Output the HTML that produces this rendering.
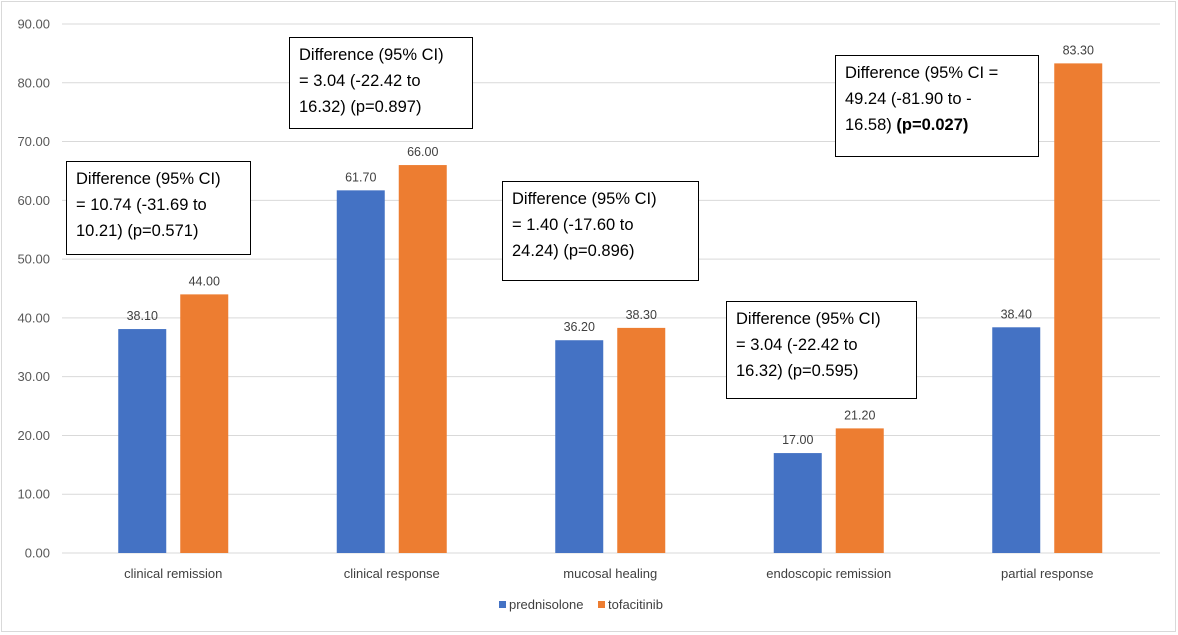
<!DOCTYPE html>
<html><head><meta charset="utf-8"><style>
body{margin:0;background:#fff;font-family:"Liberation Sans",sans-serif;}
svg text{font-family:"Liberation Sans",sans-serif;}
.box{position:absolute;background:#fff;border:1px solid #000;font-size:16.5px;line-height:26px;padding:4px 9px;box-sizing:border-box;color:#000;}
</style></head><body>
<div style="position:relative;width:1178px;height:635px;">
<svg id="c" width="1178" height="635" style="position:absolute;left:0;top:0">
<rect x="1.5" y="1.5" width="1174" height="630" fill="#fff" stroke="#d9d9d9"/>
</svg>
<div class="box" style="left:66px;top:161px;width:185px;height:94px">Difference (95% CI)<br>= 10.74 (-31.69 to<br>10.21) (p=0.571)</div>
<div class="box" style="left:289px;top:37px;width:184px;height:92px">Difference (95% CI)<br>= 3.04 (-22.42 to<br>16.32) (p=0.897)</div>
<div class="box" style="left:502px;top:181px;width:197px;height:100px">Difference (95% CI)<br>= 1.40 (-17.60 to<br>24.24) (p=0.896)</div>
<div class="box" style="left:726px;top:301px;width:191px;height:98px">Difference (95% CI)<br>= 3.04 (-22.42 to<br>16.32) (p=0.595)</div>
<div class="box" style="left:835px;top:55px;width:204px;height:102px">Difference (95% CI =<br>49.24 (-81.90 to -<br>16.58) <b>(p=0.027)</b></div>
</div>
<script>
const categories=["clinical remission","clinical response","mucosal healing","endoscopic remission","partial response"];
const prednisolone=[38.10,61.70,36.20,17.00,38.40];
const tofacitinib=[44.00,66.00,38.30,21.20,83.30];
const ticks=[0,10,20,30,40,50,60,70,80,90];
const svg=document.getElementById('c');
const NS='http://www.w3.org/2000/svg';
const y0=553,yTop=24,yMax=90,left=64,catW=218.5;
const Y=v=>y0-(v/yMax)*(y0-yTop);
const X=i=>left+(i+0.5)*catW;
function el(t,a,txt){const e=document.createElementNS(NS,t);for(const k in a)e.setAttribute(k,a[k]);if(txt!==undefined)e.textContent=txt;svg.appendChild(e);return e;}
ticks.forEach(t=>{
 const g=el('line',{x1:62,x2:1160,y1:Y(t),y2:Y(t),stroke:'#d9d9d9','stroke-width':1});
 
 
 const l=el('text',{x:50,y:Y(t)+4.5,'text-anchor':'end','font-size':13,fill:'#595959'},t.toFixed(2));
 
 
});
categories.forEach((c,i)=>{
 const cx=X(i);
 [[prednisolone[i],'#4472c4',cx-55],[tofacitinib[i],'#ed7d31',cx+7]].forEach(([v,col,x],k)=>{
  const b=el('rect',{x:x,y:Y(v),width:48,height:y0-Y(v),fill:col});
  
  
  const t=el('text',{x:x+24,y:Y(v)-9,'text-anchor':'middle','font-size':12.5,fill:'#404040'},v.toFixed(2));
  
  
 });
 const cl=el('text',{x:cx,y:578,'text-anchor':'middle','font-size':13,fill:'#404040'},c);
 
 
});
[['prednisolone','#4472c4',499],['tofacitinib','#ed7d31',598]].forEach(([n,c,x])=>{
 const s=el('rect',{x:x,y:601,width:7,height:7,fill:c});
 
 
 const t=el('text',{x:x+10,y:609,'font-size':13,fill:'#404040'},n);
 
 
});
</script>
</body></html>
